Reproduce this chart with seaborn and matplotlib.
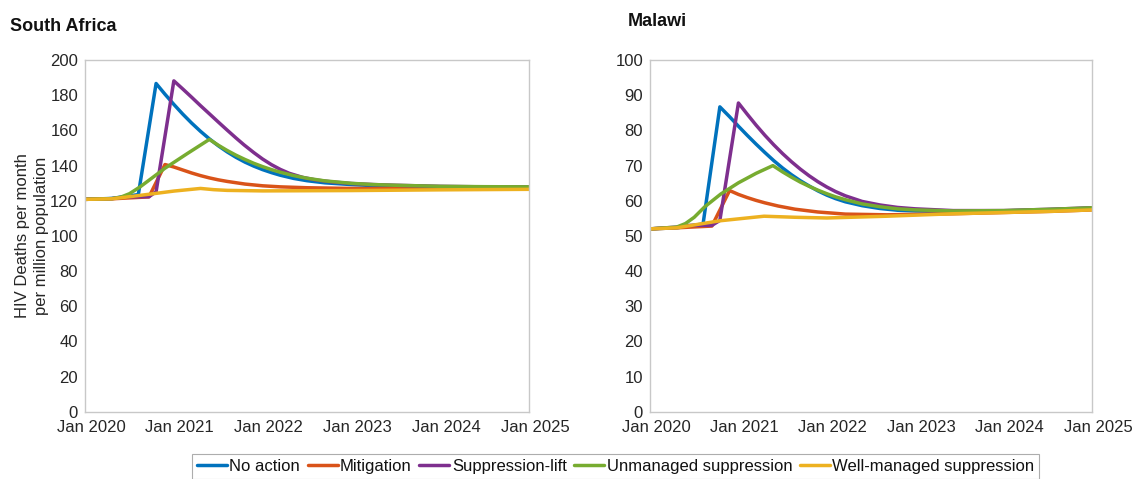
import numpy as np
import pandas as pd
import seaborn as sns
import matplotlib.pyplot as plt
from matplotlib.transforms import ScaledTranslation

# Scenario names and colours (MATLAB default order)
scenarios = ["No action", "Mitigation", "Suppression-lift",
             "Unmanaged suppression", "Well-managed suppression"]
colors = ["#0072BD", "#D95319", "#7E2F8E", "#77AC30", "#EDB120"]

# South Africa: time (years after Jan 2020) and deaths per month per million
sa_noaction_t = [0, 0.3, 0.6, 0.8, 0.9, 1.0, 1.1, 1.2, 1.3, 1.4, 1.5, 1.6, 1.7, 1.8, 1.9,
                 2.0, 2.1, 2.2, 2.35, 2.5, 2.7, 3.0, 3.25, 3.5, 4.0, 4.5, 5.0]
sa_noaction_v = [120.8, 121.3, 123.5, 186.7, 180.6, 174.8, 169.3, 164.2, 159.5, 155.2,
                 151.3, 147.8, 144.7, 142.0, 139.7, 137.7, 136.0, 134.5, 132.7, 131.4,
                 130.2, 129.2, 128.6, 128.3, 127.9, 127.8, 127.7]
sa_mitig_t = [0, 0.3, 0.72, 0.9, 1.0, 1.1, 1.2, 1.3, 1.4, 1.5, 1.6, 1.8, 2.0, 2.2, 2.5, 3.0,
              4.0, 5.0]
sa_mitig_v = [120.8, 121.1, 122.2, 140.6, 139.2, 137.5, 135.8, 134.3, 133, 131.9, 131,
              129.5, 128.5, 127.9, 127.4, 127, 126.8, 126.7]
sa_suplift_t = [0, 0.3, 0.45, 0.72, 0.8, 1.0, 1.1, 1.2, 1.3, 1.41, 1.5, 1.6, 1.7, 1.79, 1.9,
                2.0, 2.1, 2.2, 2.3, 2.45, 2.6, 2.8, 3.0, 3.25, 3.5, 4.0, 4.5, 5.0]
sa_suplift_v = [120.8, 121.2, 122.2, 122.3, 125.1, 188.2, 183.6, 178.9, 174.1, 169.0,
                164.8, 160.2, 155.7, 151.8, 147.4, 143.7, 140.5, 137.8, 135.6, 133.3,
                131.8, 130.6, 129.8, 129.2, 128.8, 128.2, 127.9, 127.8]
sa_unman_t = [0, 0.3, 0.4, 0.5, 0.62, 0.75, 0.9, 1.15, 1.4, 1.5, 1.6, 1.7, 1.8, 1.9, 2.0,
              2.1, 2.2, 2.35, 2.5, 2.7, 3.0, 3.25, 3.5, 4.0, 4.5, 5.0]
sa_unman_v = [120.8, 121.2, 122, 124, 127.9, 132.8, 138.5, 146.8, 154.9, 151.6, 148.6,
              145.9, 143.5, 141.3, 139.4, 137.7, 136.2, 134.3, 132.8, 131.3, 129.9, 129.2,
              128.8, 128.2, 128.0, 127.9]
sa_well_t = [0, 0.3, 0.5, 0.8, 1.0, 1.3, 1.45, 1.6, 2.0, 3.0, 4.0, 5.0]
sa_well_v = [120.8, 121.1, 122.3, 124.2, 125.5, 127, 126.3, 125.9, 125.6, 125.8, 126.2, 126.5]

# Malawi
mw_noaction_t = [0, 0.3, 0.6, 0.79, 0.9, 1.0, 1.1, 1.2, 1.3, 1.4, 1.5, 1.6, 1.7, 1.8, 1.9,
                 2.0, 2.1, 2.21, 2.4, 2.6, 2.8, 3.0, 3.43, 4.0, 4.56, 5.0]
mw_noaction_v = [52, 52.3, 53.4, 86.7, 83.9, 81.2, 78.6, 76.1, 73.7, 71.4, 69.3, 67.4,
                 65.7, 64.2, 62.8, 61.6, 60.6, 59.7, 58.6, 57.8, 57.3, 57.1, 56.9, 57.1,
                 57.5, 57.9]
mw_mitig_t = [0, 0.3, 0.7, 0.9, 1.0, 1.1, 1.2, 1.3, 1.45, 1.64, 1.9, 2.21, 2.68, 3.43, 4.56,
              5.0]
mw_mitig_v = [52, 52.3, 52.8, 62.9, 61.8, 60.9, 60.1, 59.4, 58.5, 57.6, 56.8, 56.2, 56,
              56.3, 57, 57.4]
mw_suplift_t = [0, 0.3, 0.45, 0.7, 0.79, 1.0, 1.1, 1.2, 1.3, 1.4, 1.5, 1.6, 1.7, 1.8, 1.9,
                2.0, 2.1, 2.21, 2.4, 2.6, 2.8, 3.0, 3.43, 4.0, 4.56, 5.0]
mw_suplift_v = [52, 52.5, 53, 53, 54.4, 87.8, 84.6, 81.5, 78.6, 75.9, 73.4, 71.1, 69.0,
                67.1, 65.4, 63.9, 62.6, 61.4, 59.8, 58.8, 58.1, 57.7, 57.2, 57.2, 57.6, 58]
mw_unman_t = [0, 0.3, 0.4, 0.5, 0.62, 0.8, 1.0, 1.2, 1.39, 1.5, 1.6, 1.7, 1.8, 1.9, 2.0,
              2.1, 2.21, 2.4, 2.6, 2.8, 3.0, 3.43, 4.0, 4.56, 5.0]
mw_unman_v = [52, 52.5, 53.5, 55.3, 58.3, 61.9, 65.1, 67.8, 70, 68.2, 66.7, 65.3, 64.1,
              63, 62, 61.1, 60.3, 59.1, 58.3, 57.7, 57.4, 57.1, 57.2, 57.6, 58]
mw_well_t = [0, 0.3, 0.79, 1.29, 1.64, 2.0, 2.68, 3.43, 4.56, 5.0]
mw_well_v = [52, 52.3, 54.3, 55.6, 55.3, 55.1, 55.6, 56.3, 57, 57.4]

year_ticks = [2020, 2021, 2022, 2023, 2024, 2025]
tick_labels = ["Jan 2020", "Jan 2021", "Jan 2022", "Jan 2023", "Jan 2024", "Jan 2025"]


def make_frame(series):
    rows = []
    for name, (t, v) in zip(scenarios, series):
        for ti, vi in zip(t, v):
            rows.append({"year": 2020 + ti, "deaths": vi, "scenario": name})
    return pd.DataFrame(rows)


sa_df = make_frame([(sa_noaction_t, sa_noaction_v), (sa_mitig_t, sa_mitig_v),
                    (sa_suplift_t, sa_suplift_v), (sa_unman_t, sa_unman_v),
                    (sa_well_t, sa_well_v)])
mw_df = make_frame([(mw_noaction_t, mw_noaction_v), (mw_mitig_t, mw_mitig_v),
                    (mw_suplift_t, mw_suplift_v), (mw_unman_t, mw_unman_v),
                    (mw_well_t, mw_well_v)])

sns.set_style("white")
plt.rcParams["font.family"] = ["Liberation Sans", "DejaVu Sans"]
palette = dict(zip(scenarios, colors))
grey = "#c8c8c8"
txt = "#262626"

fig = plt.figure(figsize=(11.4, 4.79), dpi=100)
ax1 = fig.add_axes([0.0746, 0.1405, 0.3895, 0.734])
ax2 = fig.add_axes([0.5702, 0.1405, 0.3877, 0.734])
shift = ScaledTranslation(6 / 100, 0, fig.dpi_scale_trans)

for ax, df, ymax, ystep in [(ax1, sa_df, 200, 20), (ax2, mw_df, 100, 10)]:
    sns.lineplot(data=df, x="year", y="deaths", hue="scenario", hue_order=scenarios,
                 palette=palette, estimator=None, sort=True, linewidth=2.5, ax=ax)
    ax.set_xlim(2020, 2025)
    ax.set_ylim(0, ymax)
    ax.set_xticks(year_ticks)
    ax.set_xticklabels(tick_labels)
    ax.set_yticks(np.arange(0, ymax + 1, ystep))
    ax.set_xlabel("")
    ax.set_ylabel("")
    ax.get_legend().remove()
    for s in ax.spines.values():
        s.set_color(grey)
        s.set_linewidth(1.0)
    ax.tick_params(axis="x", direction="in", length=3, color=grey, labelsize=12,
                   labelcolor=txt, pad=6)
    ax.tick_params(axis="y", direction="out", length=3, color=grey, labelsize=12,
                   labelcolor=txt, pad=2)
    for lab in ax.get_xticklabels():
        lab.set_transform(lab.get_transform() + shift)

ax1.set_ylabel("HIV Deaths per month\nper million population", fontsize=12,
               color=txt, labelpad=1, linespacing=1.3)

fig.text(0.009, 0.945, "South Africa", fontsize=13, fontweight="bold", color="#111111",
         va="center", ha="left")
fig.text(0.551, 0.955, "Malawi", fontsize=13, fontweight="bold", color="#111111",
         va="center", ha="left")

handles = ax1.get_lines()[:5]
leg = fig.legend(handles, scenarios, loc="upper center", bbox_to_anchor=(0.54, 0.052),
                 borderaxespad=0, ncol=5, frameon=True, fontsize=12, handlelength=1.8,
                 handletextpad=0.15, columnspacing=0.45, borderpad=0.3, fancybox=False)
leg.get_frame().set_edgecolor("#999999")
leg.get_frame().set_linewidth(0.8)
for t in leg.get_texts():
    t.set_color("#111111")

fig.savefig("out.png", dpi=100)
plt.close(fig)
